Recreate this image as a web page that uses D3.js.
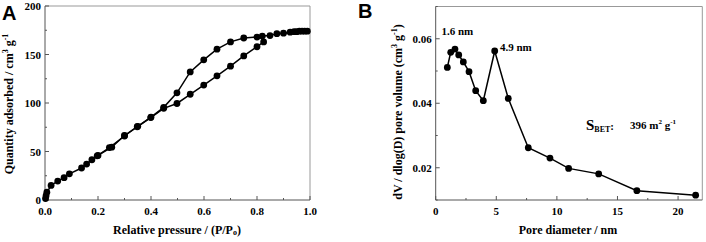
<!DOCTYPE html>
<html>
<head>
<meta charset="utf-8">
<script src="https://cdn.jsdelivr.net/npm/d3@7"></script>
<style>
body { margin: 0; background: #fff; }
svg text { font-family: "Liberation Serif", "Times New Roman", serif; font-weight: bold; }
</style>
</head>
<body>
<svg id="chart" width="706" height="242"></svg>
<script>
// panel A: N2 isotherm
let adsP = [0.002, 0.004, 0.007, 0.023, 0.048, 0.072, 0.092, 0.138, 0.157, 0.177, 0.197, 0.243, 0.30, 0.348, 0.399, 0.448, 0.498, 0.548, 0.599, 0.649, 0.70, 0.75, 0.80, 0.825];
let adsQ = [1.5, 4.5, 8, 15, 19.5, 23, 27, 33, 37, 41.5, 45.5, 54, 66, 75.5, 85, 94.5, 99.5, 109, 118.5, 128, 138, 148.5, 158, 163];
let desP = [0.99, 0.98, 0.97, 0.96, 0.95, 0.94, 0.925, 0.90, 0.875, 0.849, 0.82, 0.80, 0.75, 0.70, 0.649, 0.599, 0.548, 0.498, 0.448, 0.40, 0.35, 0.30, 0.252, 0.20];
let desQ = [174, 174, 174, 174, 173.5, 173.5, 173, 172, 171.5, 169.5, 169, 168, 167, 163, 155.5, 144.5, 132, 110.5, 95.5, 85.5, 76, 66.5, 54.5, 46];

// panel B: pore size distribution
let poreD = [0.96, 1.24, 1.59, 1.90, 2.28, 2.75, 3.30, 3.93, 4.87, 5.99, 7.64, 9.43, 10.97, 13.45, 16.6, 21.45];
let poreV = [0.0511, 0.0558, 0.0568, 0.0550, 0.0528, 0.0498, 0.0439, 0.0408, 0.0562, 0.0415, 0.0262, 0.0230, 0.0198, 0.0181, 0.0129, 0.0115];

let xTicksA = [0, 0.2, 0.4, 0.6, 0.8, 1.0];
let yTicksA = [0, 50, 100, 150, 200];
let xTicksB = [0, 5, 10, 15, 20];
let yTicksB = [0.02, 0.04, 0.06];

let svg = d3.select('#chart');

function box(g, x, y) {
	let [x0, x1] = x.range(), [y0, y1] = y.range();
	g.append('line').attr('x1', x0).attr('x2', x1).attr('y1', y1).attr('y2', y1).attr('stroke', '#999');
	g.append('line').attr('x1', x1).attr('x2', x1).attr('y1', y0).attr('y2', y1).attr('stroke', '#999');
	g.append('line').attr('x1', x0).attr('x2', x1).attr('y1', y0).attr('y2', y0).attr('stroke', '#555');
	g.append('line').attr('x1', x0).attr('x2', x0).attr('y1', y0).attr('y2', y1).attr('stroke', '#555');
}

function ticks(g, x, y, xMaj, xMin, yMaj, yMin, xFmt, yFmt) {
	let [y0] = y.range(), [x0] = x.range();
	xMin.forEach(v => g.append('line').attr('x1', x(v)).attr('x2', x(v)).attr('y1', y0).attr('y2', y0 - 2).attr('stroke', '#555'));
	xMaj.forEach(v => {
		g.append('line').attr('x1', x(v)).attr('x2', x(v)).attr('y1', y0).attr('y2', y0 - 4).attr('stroke', '#555');
		g.append('text').attr('x', x(v)).attr('y', y0 + 15).attr('text-anchor', 'middle')
			.attr('font-size', 11).text(xFmt(v));
	});
	yMin.forEach(v => g.append('line').attr('x1', x0).attr('x2', x0 + 2).attr('y1', y(v)).attr('y2', y(v)).attr('stroke', '#555'));
	yMaj.forEach(v => {
		g.append('line').attr('x1', x0).attr('x2', x0 + 4).attr('y1', y(v)).attr('y2', y(v)).attr('stroke', '#555');
		g.append('text').attr('x', x0 - 4).attr('y', y(v) + 4).attr('text-anchor', 'end')
			.attr('font-size', 11).text(yFmt(v));
	});
}

function series(g, x, y, xs, ys) {
	let pts = xs.map((v, i) => [v, ys[i]]);
	g.append('path').datum(pts)
		.attr('d', d3.line().x(d => x(d[0])).y(d => y(d[1])))
		.attr('fill', 'none').attr('stroke', '#000').attr('stroke-width', 1.5);
	g.selectAll(null).data(pts).enter().append('circle')
		.attr('cx', d => x(d[0])).attr('cy', d => y(d[1])).attr('r', 3.4).attr('fill', '#000');
}

// ---- A ----
let xA = d3.scaleLinear().domain([0, 1]).range([45, 310]);
let yA = d3.scaleLinear().domain([0, 200]).range([200, 6]);
let gA = svg.append('g');
box(gA, xA, yA);
ticks(gA, xA, yA, xTicksA, [0.1, 0.3, 0.5, 0.7, 0.9], yTicksA, [25, 75, 125, 175],
	d3.format('.1f'), d3.format('d'));
series(gA, xA, yA, adsP, adsQ);
series(gA, xA, yA, desP, desQ);

let tA = gA.append('text').attr('x', 177).attr('y', 234).attr('text-anchor', 'middle').attr('font-size', 12);
tA.append('tspan').text('Relative pressure / (P/P');
tA.append('tspan').attr('font-size', 8).attr('dy', 1).text('o');
tA.append('tspan').attr('dy', -1).text(')');

let yA_t = gA.append('text').attr('transform', 'translate(13,104) rotate(-90)')
	.attr('text-anchor', 'middle').attr('font-size', 12);
yA_t.append('tspan').text('Quantity adsorbed / cm');
yA_t.append('tspan').attr('font-size', 8).attr('dy', -5).text('3');
yA_t.append('tspan').attr('dy', 5).text(' g');
yA_t.append('tspan').attr('font-size', 8).attr('dy', -5).text('-1');

svg.append('text').attr('x', 2).attr('y', 20).attr('font-size', 20)
	.style('font-family', '"Liberation Sans", Arial, sans-serif').text('A');

// ---- B ----
let xB = d3.scaleLinear().domain([0, 22]).range([435.7, 702.3]);
let yB = d3.scaleLinear().domain([0.01, 0.07]).range([200, 6.5]);
let gB = svg.append('g');
box(gB, xB, yB);
ticks(gB, xB, yB, xTicksB, [2.5, 7.5, 12.5, 17.5], yTicksB, [0.01, 0.03, 0.05, 0.07],
	d3.format('d'), d3.format('.2f'));
series(gB, xB, yB, poreD, poreV);

gB.append('text').attr('x', 441.5).attr('y', 35).attr('font-size', 11).text('1.6 nm');
gB.append('text').attr('x', 500).attr('y', 51).attr('font-size', 11).text('4.9 nm');

let sb = gB.append('text').attr('x', 586).attr('y', 130).attr('font-size', 15);
sb.append('tspan').text('S');
sb.append('tspan').attr('font-size', 8).attr('dy', 2).text('BET');
sb.append('tspan').attr('font-size', 11).attr('dy', -2).text(':');
let sv = gB.append('text').attr('x', 630).attr('y', 129).attr('font-size', 11);
sv.append('tspan').text('396 m');
sv.append('tspan').attr('font-size', 7).attr('dy', -5).text('2');
sv.append('tspan').attr('dy', 5).text(' g');
sv.append('tspan').attr('font-size', 7).attr('dy', -5).text('-1');

gB.append('text').attr('x', 568).attr('y', 234).attr('text-anchor', 'middle').attr('font-size', 12)
	.text('Pore diameter / nm');

let yB_t = gB.append('text').attr('transform', 'translate(402,112) rotate(-90)')
	.attr('text-anchor', 'middle').attr('font-size', 12);
yB_t.append('tspan').text('dV / dlog(D) pore volume (cm');
yB_t.append('tspan').attr('font-size', 8).attr('dy', -5).text('3');
yB_t.append('tspan').attr('dy', 5).text(' g');
yB_t.append('tspan').attr('font-size', 8).attr('dy', -5).text('-1');
yB_t.append('tspan').attr('dy', 5).text(')');

svg.append('text').attr('x', 358).attr('y', 18).attr('font-size', 20)
	.style('font-family', '"Liberation Sans", Arial, sans-serif').text('B');
</script>
</body>
</html>
